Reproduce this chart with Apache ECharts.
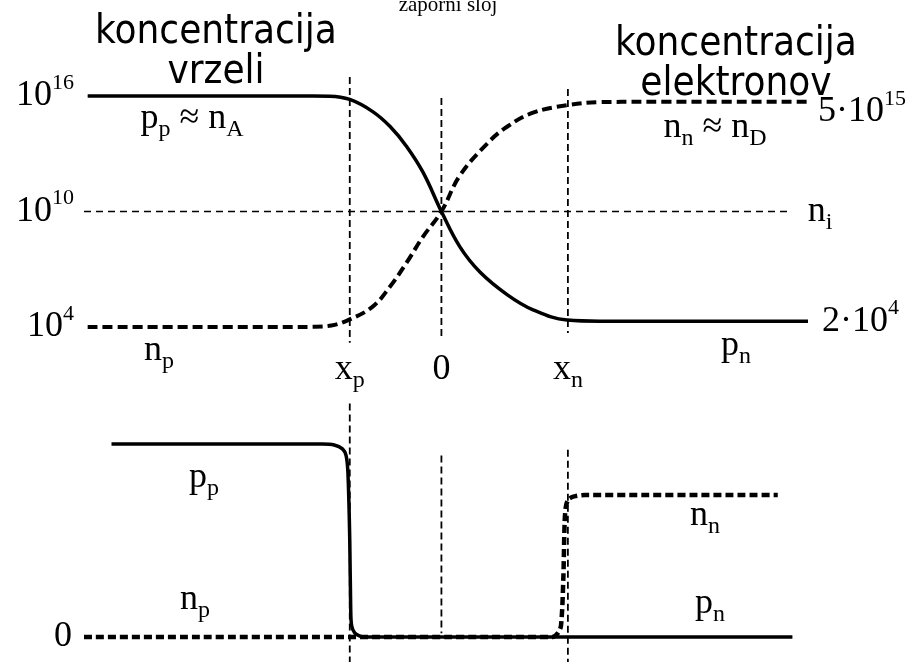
<!DOCTYPE html>
<html>
<head>
<meta charset="utf-8">
<script src="https://cdn.jsdelivr.net/npm/echarts@6/dist/echarts.min.js"></script>
<style>
  html, body { margin: 0; padding: 0; background: #fff; }
  #chart { width: 908px; height: 663px; }
</style>
</head>
<body>
<div id="chart"></div>
<script>
// Position across the p-n junction (arbitrary length units, junction at 0)
const boundaryX = [-1.0, 0, 1.38];
const boundaryNames = [['x', 'p'], ['0', ''], ['x', 'n']];

// Upper panel: carrier concentrations on a logarithmic scale (cm^-3)
const holeX = [-3.86, -1.4, -1.22, -1.0, -0.75, -0.56, -0.38, -0.2, 0, 0.2, 0.42, 0.72, 1.0, 1.37, 1.73, 2.2, 4.0];
const holeConc = [1e16, 1e16, 9.8e15, 6.6e15, 1.55e15, 2.6e14, 2.4e13, 1.07e12, 1e10, 1.5e8, 7.2e6, 4.7e5, 7.8e4, 2.3e4, 2e4, 2e4, 2e4];
const electronX = [-3.86, -1.7, -1.4, -1.2, -1.0, -0.75, -0.56, -0.38, -0.2, 0, 0.2, 0.5, 0.72, 1.0, 1.37, 1.73, 2.2, 4.0];
const electronConc = [1e4, 1e4, 1.02e4, 1.2e4, 2.5e4, 1.15e5, 1.26e6, 2.2e7, 5e8, 1e10, 7.2e11, 3.4e13, 2.6e14, 1.35e15, 3.3e15, 4.8e15, 5e15, 5e15];
const intrinsicX = [-3.9, 3.78];
const intrinsicConc = 1e10;
const logTicks = [1e4, 1e10, 1e16];

// Lower panel: the same carriers on a linear scale (relative units)
const holeLinX = [-3.6, -1.3, -1.17, -1.08, -1.04, -1.02, -1.0, -0.99, -0.98, -0.945, -0.89, -0.83, 3.83];
const holeLin = [1, 1, 0.995, 0.975, 0.94, 0.85, 0.5, 0.15, 0.06, 0.02, 0.005, 0, 0];
const electronLinX = [-3.9, 1.21, 1.27, 1.305, 1.33, 1.345, 1.36, 1.39, 1.46, 1.57, 3.67];
const electronLin = [0, 0, 0.02, 0.06, 0.3, 0.6, 0.68, 0.715, 0.73, 0.736, 0.736];

const SERIF = "'Liberation Serif', 'Times New Roman', serif";
const SANS = "'DejaVu Sans Condensed', 'DejaVu Sans', sans-serif";

// rich-text styles: m = main glyphs, s = subscript, u = superscript
function richStyles(colorKey) {
  const s = o => Object.assign(o, { [colorKey]: '#000', fontFamily: SERIF });
  return {
    m: s({ fontSize: 36, lineHeight: 44 }),
    s: s({ fontSize: 24, lineHeight: 24, padding: [22, 0, 0, 0] }),
    u: s({ fontSize: 22, lineHeight: 22, padding: [0, 0, 26, 0] })
  };
}
const labelRich = richStyles('color');
const graphicRich = richStyles('fill');

const sym = (main, sub) => sub ? `{m|${main}}{s|${sub}}` : `{m|${main}}`;
function sciLabel(v) {
  const e = Math.floor(Math.log10(v) + 1e-9);
  const m = Math.round(v / Math.pow(10, e));
  return m === 1 ? `{m|10}{u|${e}}` : `{m|${m}·10}{u|${e}}`;
}
const pairs = (xs, ys) => xs.map((x, i) => [x, Array.isArray(ys) ? ys[i] : ys]);

const X_MIN = -3.9, X_MAX = 4.0;
const guideStyle = { color: '#000', width: 1.8, type: [7, 4] };

// vertical guides at x_p, 0, x_n (extents in axis units of each panel)
const guideTop = [[9.8e16, 1.5e3], [7.9e15, 2.1e3], [2.3e16, 4.9e3]];
const guideBottom = [[1.21, -0.13], [0.94, 0.02], [0.97, -0.13]];

const guideSeries = [];
boundaryX.forEach((x, i) => {
  guideSeries.push({
    type: 'line', xAxisIndex: 0, yAxisIndex: 0, symbol: 'none', clip: false, silent: true, z: 1,
    lineStyle: guideStyle, data: [[x, guideTop[i][0]], [x, guideTop[i][1]]]
  });
  guideSeries.push({
    type: 'line', xAxisIndex: 1, yAxisIndex: 1, symbol: 'none', clip: false, silent: true, z: 1,
    lineStyle: guideStyle, data: [[x, guideBottom[i][0]], [x, guideBottom[i][1]]]
  });
});

const text = (x, y, t) => ({
  type: 'text', x, y, silent: true,
  style: { text: t, rich: graphicRich, align: 'center', verticalAlign: 'middle', fill: '#000' }
});
const title = (x, y, t, size) => ({
  type: 'text', x, y, silent: true,
  style: { text: t, fontFamily: SANS, fontSize: size, fill: '#000', align: 'center', verticalAlign: 'middle' }
});

const option = {
  backgroundColor: '#fff',
  animation: false,
  grid: [
    { left: 84, right: 100, top: 96, height: 231 },
    { left: 84, right: 100, top: 444, height: 193 }
  ],
  xAxis: [
    {
      type: 'value', gridIndex: 0, min: X_MIN, max: X_MAX,
      axisLine: { show: false }, axisTick: { show: false }, splitLine: { show: false },
      axisLabel: {
        margin: 21,
        customValues: boundaryX,
        formatter: v => {
          const i = boundaryX.findIndex(b => Math.abs(b - v) < 1e-6);
          return i < 0 ? '' : sym(boundaryNames[i][0], boundaryNames[i][1]);
        },
        rich: labelRich
      }
    },
    {
      type: 'value', gridIndex: 1, min: X_MIN, max: X_MAX,
      axisLine: { show: false }, axisTick: { show: false }, splitLine: { show: false },
      axisLabel: { show: false }
    }
  ],
  yAxis: [
    {
      type: 'log', logBase: 10, gridIndex: 0, min: 1e4, max: 1e16,
      axisLine: { show: false }, axisTick: { show: false }, splitLine: { show: false },
      axisLabel: {
        margin: 10,
        formatter: v => {
          const e = Math.log10(v);
          return logTicks.some(t => Math.abs(Math.log10(t) - e) < 1e-6) ? `{m|10}{u|${Math.round(e)}}` : '';
        },
        rich: labelRich
      }
    },
    {
      type: 'value', gridIndex: 1, min: 0, max: 1,
      axisLine: { show: false }, axisTick: { show: false }, splitLine: { show: false },
      axisLabel: { margin: 12, formatter: v => (v === 0 ? '{m|0}' : ''), rich: labelRich }
    }
  ],
  series: guideSeries.concat([
    {
      name: 'n_i', type: 'line', xAxisIndex: 0, yAxisIndex: 0, symbol: 'none', clip: false, z: 2,
      lineStyle: { color: '#000', width: 1.5, type: [7, 5] },
      data: pairs(intrinsicX, intrinsicConc),
      endLabel: { show: true, distance: 20, formatter: () => sym('n', 'i'), rich: labelRich }
    },
    {
      name: 'p', type: 'line', xAxisIndex: 0, yAxisIndex: 0, symbol: 'none', clip: false, z: 3,
      smooth: 0.4,
      lineStyle: { color: '#000', width: 3.5 },
      data: pairs(holeX, holeConc),
      endLabel: { show: true, distance: 14, formatter: p => sciLabel(p.value[1]), rich: labelRich }
    },
    {
      name: 'n', type: 'line', xAxisIndex: 0, yAxisIndex: 0, symbol: 'none', clip: false, z: 3,
      smooth: 0.4,
      lineStyle: { color: '#000', width: 4, type: [10, 5] },
      data: pairs(electronX, electronConc),
      endLabel: { show: true, distance: 10, offset: [0, 10], formatter: p => sciLabel(p.value[1]), rich: labelRich }
    },
    {
      name: 'p lin', type: 'line', xAxisIndex: 1, yAxisIndex: 1, symbol: 'none', clip: false, z: 3,
      smooth: 0.3,
      lineStyle: { color: '#000', width: 3.5 },
      data: pairs(holeLinX, holeLin)
    },
    {
      name: 'n lin', type: 'line', xAxisIndex: 1, yAxisIndex: 1, symbol: 'none', clip: false, z: 4,
      smooth: 0.3,
      lineStyle: { color: '#000', width: 4.5, type: [8, 4] },
      data: pairs(electronLinX, electronLin)
    }
  ]),
  graphic: {
    elements: [
      title(216, 33, 'koncentracija', 40),
      title(216, 73, 'vrzeli', 40),
      title(736, 45, 'koncentracija', 40),
      title(736, 85, 'elektronov', 40),
      {
        type: 'text', x: 448, y: 5, silent: true,
        style: { text: 'zaporni sloj', fontFamily: SERIF, fontSize: 21, fill: '#000', align: 'center', verticalAlign: 'middle' }
      },
      text(192, 119, '{m|p}{s|p}{m| ≈ n}{s|A}'),
      text(159, 351, sym('n', 'p')),
      text(715, 128, '{m|n}{s|n}{m| ≈ n}{s|D}'),
      text(736, 346, sym('p', 'n')),
      text(204, 478, sym('p', 'p')),
      text(195, 600, sym('n', 'p')),
      text(705, 516, sym('n', 'n')),
      text(710, 604, sym('p', 'n'))
    ]
  }
};

const chart = echarts.init(document.getElementById('chart'), null, { renderer: 'canvas' });
chart.setOption(option);
</script>
</body>
</html>
